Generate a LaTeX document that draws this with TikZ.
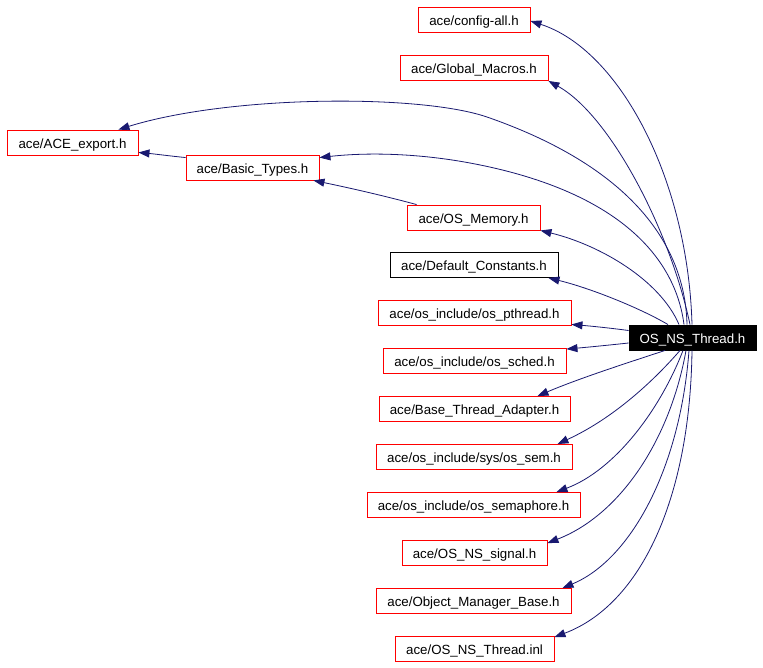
\documentclass[tikz,border=0pt]{standalone}
\usepackage{fontspec}
\setmainfont{Liberation Sans}
\usetikzlibrary{arrows.meta}
\definecolor{edgeblue}{HTML}{191970}
\begin{document}
\begin{tikzpicture}[x=1pt,y=-1pt,
  filebox/.style={draw, line width=0.9pt, inner sep=0pt, minimum height=25pt, text height=11.8pt, text depth=0.8pt, font=\fontsize{13.3}{15}\selectfont, text=black},
  redbox/.style={filebox, draw=red},
  blackbox/.style={filebox, draw=black},
  mainbox/.style={filebox, draw=black, fill=black, text=white},
  dep/.style={draw=edgeblue, line width=0.8pt, -{Triangle[length=11pt,width=8pt]}, fill=none},
]
\useasboundingbox (0,0) rectangle (763,667);
\fill[white] (0,0) rectangle (763,667);

\node[redbox, minimum width=112pt] (cfg) at (474,19.5) {ace/config-all.h};
\node[redbox, minimum width=148pt] (glob) at (474,68) {ace/Global\_Macros.h};
\node[redbox, minimum width=131pt] (ace) at (72.5,142.5) {ace/ACE\_export.h};
\node[redbox, minimum width=133pt] (basic) at (252.5,167.5) {ace/Basic\_Types.h};
\node[redbox, minimum width=133pt] (mem) at (473.5,217.5) {ace/OS\_Memory.h};
\node[blackbox, minimum width=168pt] (defc) at (474,265) {ace/Default\_Constants.h};
\node[redbox, minimum width=193pt] (pth) at (474.5,313) {ace/os\_include/os\_pthread.h};
\node[redbox, minimum width=183pt] (sched) at (474.5,361) {ace/os\_include/os\_sched.h};
\node[redbox, minimum width=191pt] (bta) at (474.5,409) {ace/Base\_Thread\_Adapter.h};
\node[redbox, minimum width=196pt] (sem) at (474,457) {ace/os\_include/sys/os\_sem.h};
\node[redbox, minimum width=213pt] (semaphore) at (473.5,505) {ace/os\_include/os\_semaphore.h};
\node[redbox, minimum width=145pt] (sig) at (474.5,553) {ace/OS\_NS\_signal.h};
\node[redbox, minimum width=195pt] (omb) at (473.5,601) {ace/Object\_Manager\_Base.h};
\node[redbox, minimum width=159pt] (inl) at (474.5,649) {ace/OS\_NS\_Thread.inl};
\node[mainbox, minimum width=127pt] (main) at (692.5,337.5) {OS\_NS\_Thread.h};

% upward edges
\draw[dep] ([xshift=-0.5pt]main.north) .. controls (688,180) and (620,50) .. ([yshift=-1.5pt]cfg.east);
\draw[dep] ([xshift=-2.5pt]main.north) .. controls (670,230) and (610,115) .. (glob.south east);
\draw[dep] ([xshift=-5.5pt]main.north) .. controls (685,240) and (625,165) .. (487,117)
   .. controls (420,94) and (230,95) .. ([xshift=-20pt]ace.north east);
\draw[dep] ([xshift=-8.5pt]main.north) .. controls (675,255) and (615,190) .. (470,163)
   .. controls (420,153.7) and (370,152) .. ([yshift=-3pt]basic.north east);
\draw[dep] ([xshift=-13.5pt]main.north) .. controls (660,280) and (600,245) .. (mem.south east);
\draw[dep] ([xshift=-24.5pt]main.north) .. controls (640,308) and (590,288) .. ([xshift=-10pt]defc.south east);
\draw[dep] ([yshift=7pt]main.west) .. controls (610,328) and (590,326) .. ([yshift=1.5pt]pth.south east);
\draw[dep] ([yshift=-5.5pt]main.west) .. controls (610,345) and (590,347) .. ([yshift=-1pt]sched.north east);

% inner edges
\draw[dep] ([xshift=10pt]mem.north west) .. controls (385,196) and (350,188) .. ([xshift=-6pt]basic.south east);
\draw[dep] ([yshift=-3pt]basic.north west) .. controls (170,156) and (155,154) .. ([yshift=3pt]ace.south east);

% downward edges
\draw[dep] ([xshift=-27.5pt]main.south) .. controls (630,362) and (580,378) .. ([xshift=-33pt]bta.north east);
\draw[dep] ([xshift=-12.5pt]main.south) .. controls (650,385) and (610,420) .. ([xshift=-15pt]sem.north east);
\draw[dep] ([xshift=-9.5pt]main.south) .. controls (660,410) and (615,470) .. ([xshift=-24pt]semaphore.north east);
\draw[dep] ([xshift=-6.5pt]main.south) .. controls (670,440) and (620,515) .. ([yshift=-3pt]sig.north east);
\draw[dep] ([xshift=-3.5pt]main.south) .. controls (680,470) and (630,560) .. ([xshift=-9pt]omb.north east);
\draw[dep] ([xshift=-0.5pt]main.south) .. controls (690,500) and (640,605) .. ([yshift=-1pt]inl.north east);
\end{tikzpicture}
\end{document}
